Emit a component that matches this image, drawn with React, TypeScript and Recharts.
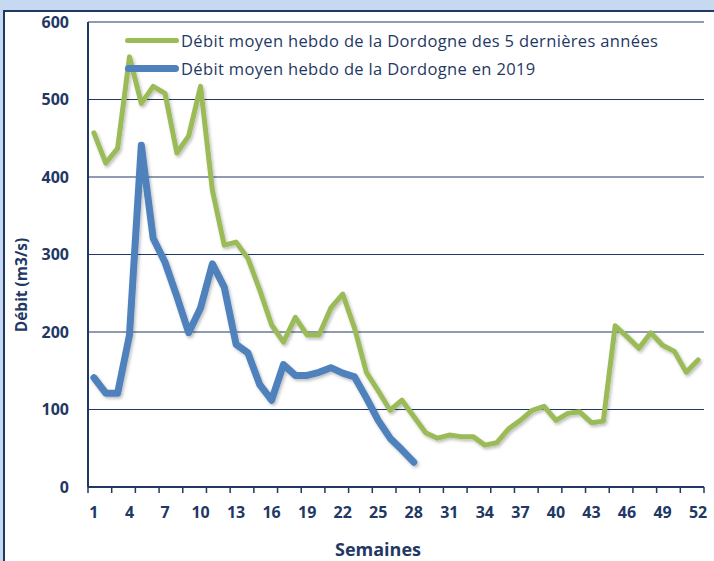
import React from "react";
import { LineChart, Line, XAxis, YAxis, CartesianGrid } from "recharts";

const weeks = [1,2,3,4,5,6,7,8,9,10,11,12,13,14,15,16,17,18,19,20,21,22,23,24,25,26,27,28,29,30,31,32,33,34,35,36,37,38,39,40,41,42,43,44,45,46,47,48,49,50,51,52];
const avg5 = [457,418,437,555,495,517,508,431,453,517,383,312,316,295,254,209,187,219,196,196,231,249,205,148,124,99,112,91,70,63,67,65,65,54,57,75,86,99,104,86,95,97,83,85,208,194,179,199,183,175,148,164];
const y2019 = [141,121,121,196,441,321,290,246,199,231,288,258,184,173,132,112,158,144,144,148,154,147,142,115,86,63,48,32];
const seriesNames = ["Débit moyen hebdo de la Dordogne des 5 dernières années", "Débit moyen hebdo de la Dordogne en 2019"];
const seriesColors = ["#9bbb59", "#4f81bd"];
const xLabels = [1,4,7,10,13,16,19,22,25,28,31,34,37,40,43,46,49,52];
const xTickMarks = [0.5,2.5,4.5,6.5,8.5,10.5,12.5,14.5,16.5,18.5,20.5,22.5,24.5,26.5,28.5,30.5,32.5,34.5,36.5,38.5,40.5,42.5,44.5,46.5,48.5,50.5,52.5];
const yTicks = [0,100,200,300,400,500,600];

const data = weeks.map((w, i) => ({
  week: w,
  avg5: avg5[i],
  y2019: i < y2019.length ? y2019[i] : null,
}));

const NAVY = "#1f3864";
const FONT = "'Open Sans', Lato, sans-serif";

const XTick = (props: any) => {
  const { x, y, payload } = props;
  const v = payload.value;
  if (xTickMarks.includes(v)) {
    return <line x1={x} x2={x} y1={y} y2={y + 6} stroke={NAVY} strokeWidth={1.5} />;
  }
  if (xLabels.includes(v)) {
    return (
      <text x={x} y={y + 25} textAnchor="middle" dominantBaseline="central" fill={NAVY} fontWeight={700} fontSize={16} fontFamily={FONT}>
        {v}
      </text>
    );
  }
  return null;
};

const YLabel = () => (
  <text x={21} y={285} transform="rotate(-90, 21, 285)" textAnchor="middle" dominantBaseline="central" fill={NAVY} fontWeight={700} fontSize={15.5} fontFamily={FONT}>
    Débit (m3/s)
  </text>
);

export default function App() {
  const allXTicks = [...xTickMarks, ...xLabels].sort((a, b) => a - b);
  return (
    <div style={{ position: "absolute", left: 0, top: 0, width: 714, height: 561, background: "#c6d9f0", overflow: "hidden", fontFamily: FONT }}>
      <div style={{ position: "absolute", left: 3, top: 10, width: 730, height: 600, background: "#ffffff", border: `2px solid ${NAVY}`, boxSizing: "border-box" }} />
      <div style={{ position: "absolute", left: 0, top: 0 }}>
        <LineChart width={714} height={561} data={data} margin={{ top: 22, right: 10, left: 0, bottom: 0 }}>
          <defs>
            <filter id="shadow" x="-5%" y="-5%" width="110%" height="115%">
              <feDropShadow dx="1.5" dy="2" stdDeviation="1.5" floodColor="#000" floodOpacity="0.25" />
            </filter>
          </defs>
          <CartesianGrid horizontal={true} vertical={false} stroke={NAVY} strokeWidth={1.2} />
          <XAxis
            dataKey="week"
            type="number"
            domain={[0.5, 52.5]}
            ticks={allXTicks}
            interval={0}
            tickLine={false}
            tickSize={0}
            tickMargin={0}
            tick={<XTick />}
            axisLine={{ stroke: NAVY, strokeWidth: 2 }}
            height={74}
          />
          <YAxis
            type="number"
            domain={[0, 600]}
            ticks={yTicks}
            interval={0}
            width={88}
            tickLine={false}
            tickSize={0}
            tickMargin={19}
            axisLine={{ stroke: NAVY, strokeWidth: 2 }}
            tick={{ fill: NAVY, fontWeight: 700, fontSize: 16, fontFamily: FONT }}
            label={<YLabel />}
          />
          <Line dataKey="avg5" name={seriesNames[0]} stroke={seriesColors[0]} strokeWidth={5} dot={false} isAnimationActive={false} strokeLinejoin="round" strokeLinecap="round" filter="url(#shadow)" />
          <Line dataKey="y2019" name={seriesNames[1]} stroke={seriesColors[1]} strokeWidth={7} dot={false} isAnimationActive={false} strokeLinejoin="round" strokeLinecap="round" connectNulls={false} filter="url(#shadow)" />
        </LineChart>
      </div>
      {seriesNames.map((n, i) => (
        <div key={n} style={{ position: "absolute", left: 125, top: 29 + i * 28, height: 22, display: "flex", alignItems: "center", color: NAVY, fontSize: 16.5, letterSpacing: 0.35, whiteSpace: "nowrap" }}>
          <span style={{ display: "inline-block", width: 54, height: i === 0 ? 5 : 7, borderRadius: 4, background: seriesColors[i], marginRight: 2 }} />
          <span>{n}</span>
        </div>
      ))}
      <div style={{ position: "absolute", left: 278, width: 200, top: 536, height: 26, lineHeight: "26px", textAlign: "center", color: NAVY, fontWeight: 700, fontSize: 18 }}>Semaines</div>
    </div>
  );
}
